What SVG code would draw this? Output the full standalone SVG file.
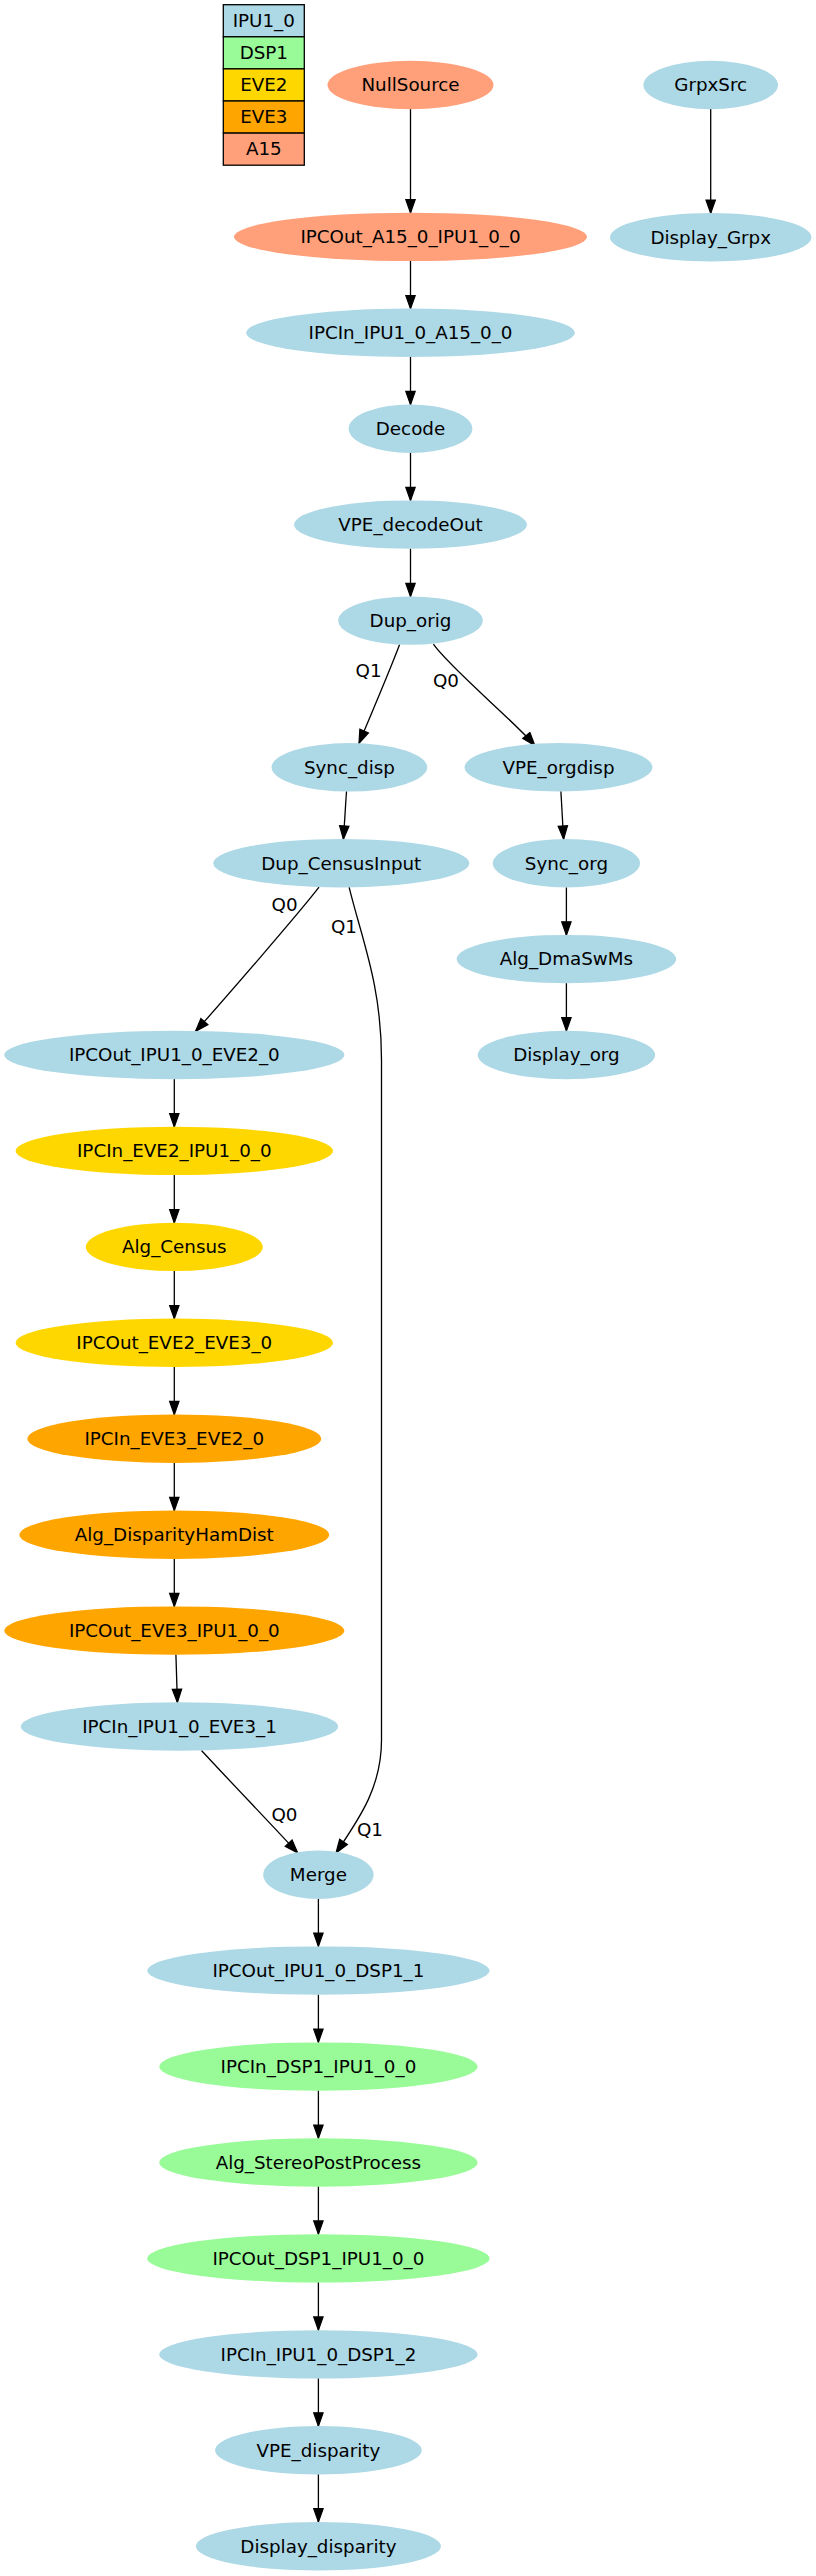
<svg xmlns="http://www.w3.org/2000/svg" width="816" height="2576" viewBox="0 0 816 2576">
<style>
text{font-family:"DejaVu Sans","Liberation Sans",sans-serif;font-size:18.3px;fill:#000;text-anchor:middle}
.ipu{fill:#add8e6}
.dsp{fill:#98fb98}
.eve2{fill:#ffd700}
.eve3{fill:#ffa500}
.a15{fill:#ffa07a}
.cell{stroke:#000;stroke-width:1.3}
.e{fill:none;stroke:#000;stroke-width:1.3;marker-end:url(#arr)}
</style>
<defs>
<marker id="arr" markerUnits="userSpaceOnUse" markerWidth="16" markerHeight="12" refX="13.3" refY="4.7" orient="auto" viewBox="-1 -1 16 12">
<path d="M0,0 L13.3,4.7 L0,9.4 Z" fill="#000" stroke="#000" stroke-width="1.2"/>
</marker>
</defs>
<rect width="816" height="2576" fill="#fff"/>

<g id="legend">
<rect class="cell ipu" x="223.3" y="4.7" width="81" height="32.1"/>
<rect class="cell dsp" x="223.3" y="36.8" width="81" height="32.1"/>
<rect class="cell eve2" x="223.3" y="68.9" width="81" height="32.1"/>
<rect class="cell eve3" x="223.3" y="101" width="81" height="32.1"/>
<rect class="cell a15" x="223.3" y="133.1" width="81" height="32.1"/>
<text x="263.8" y="26.8">IPU1_0</text>
<text x="263.8" y="58.9">DSP1</text>
<text x="263.8" y="91">EVE2</text>
<text x="263.8" y="123.1">EVE3</text>
<text x="263.8" y="155.2">A15</text>
</g>

<g id="edges">
<path class="e" d="M410.5,109 L410.5,212.9"/>
<path class="e" d="M710.7,109 L710.7,213.3"/>
<path class="e" d="M410.5,260.9 L410.5,308.8"/>
<path class="e" d="M410.5,356.8 L410.5,404.7"/>
<path class="e" d="M410.5,452.7 L410.5,500.6"/>
<path class="e" d="M410.5,548.6 L410.5,596.6"/>
<path class="e" d="M399.6,644.6 C392,665 368,722 359,743.3"/>
<path class="e" d="M433.4,644.2 C450,668 515,722 534.9,745.6"/>
<path class="e" d="M346.5,791.3 L343.4,839.2"/>
<path class="e" d="M560.9,791.3 L563.6,839.2"/>
<path class="e" d="M566.4,887.2 L566.4,935.1"/>
<path class="e" d="M566.4,983.1 L566.4,1031"/>
<path class="e" d="M319,887.2 C300,912 222,1002 195.5,1031.5"/>
<path class="e" d="M349.1,887.2 C362,940 381.5,985 381.5,1060 L381.5,1740 C381.5,1785 362,1815 336,1852.9"/>
<path class="e" d="M174.3,1079 L174.3,1126.9"/>
<path class="e" d="M174.3,1174.9 L174.3,1222.9"/>
<path class="e" d="M174.3,1270.9 L174.3,1318.8"/>
<path class="e" d="M174.3,1366.8 L174.3,1414.7"/>
<path class="e" d="M174.3,1462.7 L174.3,1510.7"/>
<path class="e" d="M174.3,1558.7 L174.3,1606.6"/>
<path class="e" d="M175.9,1654.6 L177.4,1702.5"/>
<path class="e" d="M201.5,1750.5 C225,1776 270,1823 297.7,1852.9"/>
<path class="e" d="M318.4,1898.7 L318.4,1946.4"/>
<path class="e" d="M318.4,1994.4 L318.4,2042.4"/>
<path class="e" d="M318.4,2090.4 L318.4,2138.3"/>
<path class="e" d="M318.4,2186.3 L318.4,2234.2"/>
<path class="e" d="M318.4,2282.2 L318.4,2330.2"/>
<path class="e" d="M318.4,2378.2 L318.4,2426.1"/>
<path class="e" d="M318.4,2474.1 L318.4,2522"/>
<text x="368.6" y="677.4">Q1</text>
<text x="446" y="687.4">Q0</text>
<text x="284.6" y="911.4">Q0</text>
<text x="343.9" y="932.9">Q1</text>
<text x="284.5" y="1820.7">Q0</text>
<text x="370" y="1836.4">Q1</text>
</g>

<g id="NullSource"><ellipse class="a15" cx="410.5" cy="85" rx="83" ry="24.2"/><text x="410.5" y="91.3">NullSource</text></g>
<g id="GrpxSrc"><ellipse class="ipu" cx="710.7" cy="85" rx="67.3" ry="24.2"/><text x="710.7" y="91.3">GrpxSrc</text></g>
<g id="IPCOut_A15_0_IPU1_0_0"><ellipse class="a15" cx="410.5" cy="236.9" rx="176.5" ry="24.2"/><text x="410.5" y="243.2">IPCOut_A15_0_IPU1_0_0</text></g>
<g id="Display_Grpx"><ellipse class="ipu" cx="710.7" cy="237.3" rx="100.7" ry="24.2"/><text x="710.7" y="243.6">Display_Grpx</text></g>
<g id="IPCIn_IPU1_0_A15_0_0"><ellipse class="ipu" cx="410.5" cy="332.8" rx="164.4" ry="24.2"/><text x="410.5" y="339.1">IPCIn_IPU1_0_A15_0_0</text></g>
<g id="Decode"><ellipse class="ipu" cx="410.5" cy="428.7" rx="61.9" ry="24.2"/><text x="410.5" y="435">Decode</text></g>
<g id="VPE_decodeOut"><ellipse class="ipu" cx="410.5" cy="524.6" rx="116.5" ry="24.2"/><text x="410.5" y="530.9">VPE_decodeOut</text></g>
<g id="Dup_orig"><ellipse class="ipu" cx="410.5" cy="620.6" rx="72.3" ry="24.2"/><text x="410.5" y="626.9">Dup_orig</text></g>
<g id="Sync_disp"><ellipse class="ipu" cx="349.4" cy="767.3" rx="77.8" ry="24.2"/><text x="349.4" y="773.6">Sync_disp</text></g>
<g id="VPE_orgdisp"><ellipse class="ipu" cx="558.5" cy="767.3" rx="93.9" ry="24.2"/><text x="558.5" y="773.6">VPE_orgdisp</text></g>
<g id="Dup_CensusInput"><ellipse class="ipu" cx="341.3" cy="863.2" rx="128" ry="24.2"/><text x="341.3" y="869.5">Dup_CensusInput</text></g>
<g id="Sync_org"><ellipse class="ipu" cx="566.4" cy="863.2" rx="73.6" ry="24.2"/><text x="566.4" y="869.5">Sync_org</text></g>
<g id="Alg_DmaSwMs"><ellipse class="ipu" cx="566.4" cy="959.1" rx="109.8" ry="24.2"/><text x="566.4" y="965.4">Alg_DmaSwMs</text></g>
<g id="Display_org"><ellipse class="ipu" cx="566.4" cy="1055" rx="88.7" ry="24.2"/><text x="566.4" y="1061.3">Display_org</text></g>
<g id="IPCOut_IPU1_0_EVE2_0"><ellipse class="ipu" cx="174.3" cy="1055" rx="170.1" ry="24.2"/><text x="174.3" y="1061.3">IPCOut_IPU1_0_EVE2_0</text></g>
<g id="IPCIn_EVE2_IPU1_0_0"><ellipse class="eve2" cx="174.3" cy="1150.9" rx="158.7" ry="24.2"/><text x="174.3" y="1157.2">IPCIn_EVE2_IPU1_0_0</text></g>
<g id="Alg_Census"><ellipse class="eve2" cx="174.3" cy="1246.9" rx="88.5" ry="24.2"/><text x="174.3" y="1253.2">Alg_Census</text></g>
<g id="IPCOut_EVE2_EVE3_0"><ellipse class="eve2" cx="174.3" cy="1342.8" rx="158.7" ry="24.2"/><text x="174.3" y="1349.1">IPCOut_EVE2_EVE3_0</text></g>
<g id="IPCIn_EVE3_EVE2_0"><ellipse class="eve3" cx="174.3" cy="1438.7" rx="147" ry="24.2"/><text x="174.3" y="1445">IPCIn_EVE3_EVE2_0</text></g>
<g id="Alg_DisparityHamDist"><ellipse class="eve3" cx="174.3" cy="1534.7" rx="155" ry="24.2"/><text x="174.3" y="1541">Alg_DisparityHamDist</text></g>
<g id="IPCOut_EVE3_IPU1_0_0"><ellipse class="eve3" cx="174.3" cy="1630.6" rx="170.1" ry="24.2"/><text x="174.3" y="1636.9">IPCOut_EVE3_IPU1_0_0</text></g>
<g id="IPCIn_IPU1_0_EVE3_1"><ellipse class="ipu" cx="179.5" cy="1726.5" rx="158.7" ry="24.2"/><text x="179.5" y="1732.8">IPCIn_IPU1_0_EVE3_1</text></g>
<g id="Merge"><ellipse class="ipu" cx="318.4" cy="1874.7" rx="55.2" ry="24.2"/><text x="318.4" y="1881">Merge</text></g>
<g id="IPCOut_IPU1_0_DSP1_1"><ellipse class="ipu" cx="318.4" cy="1970.6" rx="171.2" ry="24.2"/><text x="318.4" y="1976.9">IPCOut_IPU1_0_DSP1_1</text></g>
<g id="IPCIn_DSP1_IPU1_0_0"><ellipse class="dsp" cx="318.4" cy="2066.6" rx="159.2" ry="24.2"/><text x="318.4" y="2072.9">IPCIn_DSP1_IPU1_0_0</text></g>
<g id="Alg_StereoPostProcess"><ellipse class="dsp" cx="318.4" cy="2162.5" rx="159.2" ry="24.2"/><text x="318.4" y="2168.8">Alg_StereoPostProcess</text></g>
<g id="IPCOut_DSP1_IPU1_0_0"><ellipse class="dsp" cx="318.4" cy="2258.4" rx="171.2" ry="24.2"/><text x="318.4" y="2264.7">IPCOut_DSP1_IPU1_0_0</text></g>
<g id="IPCIn_IPU1_0_DSP1_2"><ellipse class="ipu" cx="318.4" cy="2354.4" rx="159.2" ry="24.2"/><text x="318.4" y="2360.7">IPCIn_IPU1_0_DSP1_2</text></g>
<g id="VPE_disparity"><ellipse class="ipu" cx="318.4" cy="2450.3" rx="103.3" ry="24.2"/><text x="318.4" y="2456.6">VPE_disparity</text></g>
<g id="Display_disparity"><ellipse class="ipu" cx="318.4" cy="2546.3" rx="122.5" ry="24.2"/><text x="318.4" y="2552.6">Display_disparity</text></g>
</svg>
